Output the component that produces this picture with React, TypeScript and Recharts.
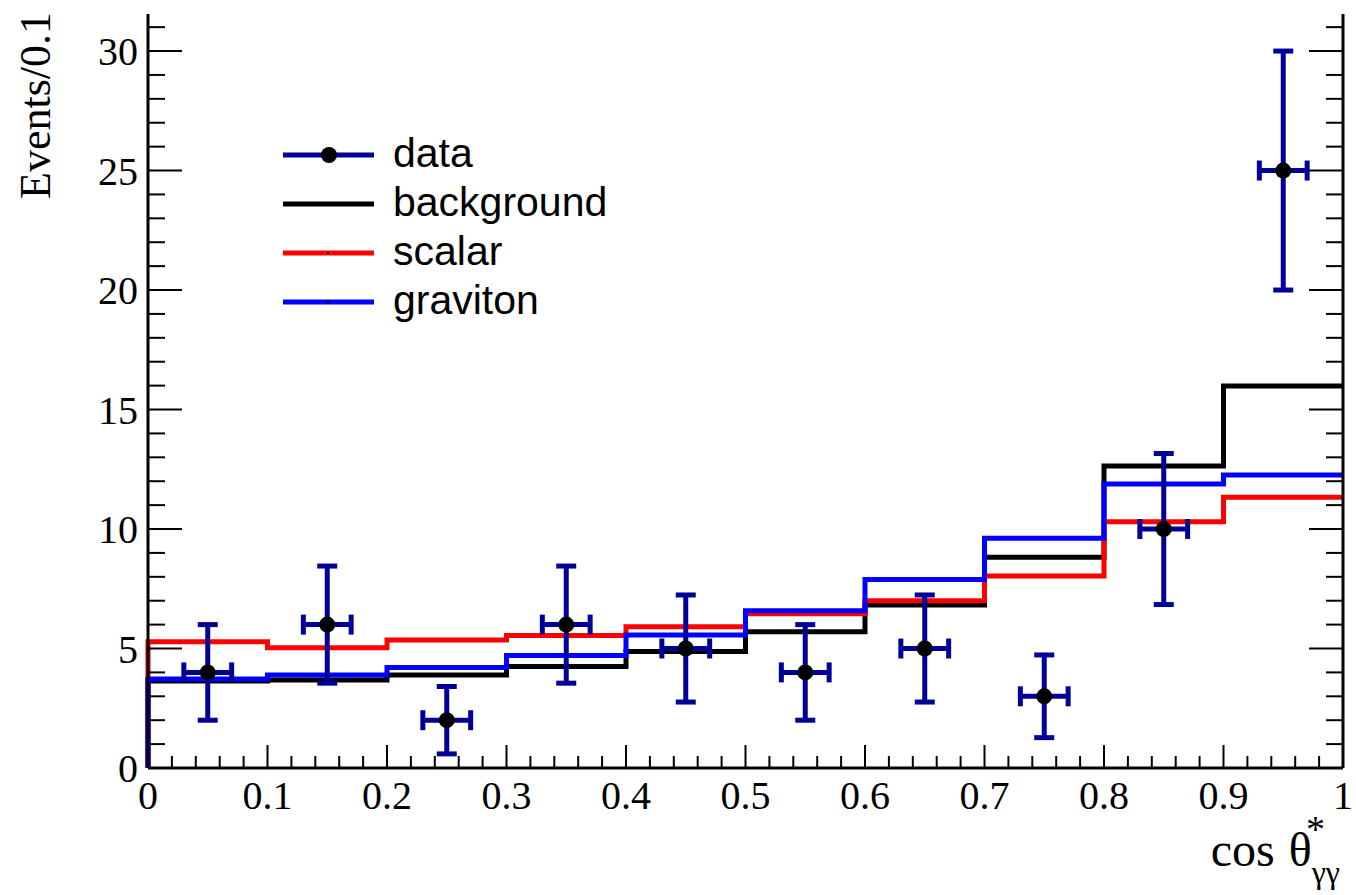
import { ComposedChart, Line, Scatter, ErrorBar, XAxis, YAxis } from "recharts";

// bin low edges and contents
const binEdges = [0, 0.1, 0.2, 0.3, 0.4, 0.5, 0.6, 0.7, 0.8, 0.9];
const background = [3.64, 3.68, 3.89, 4.25, 4.87, 5.7, 6.82, 8.82, 12.64, 15.98];
const scalar = [5.28, 5.03, 5.36, 5.54, 5.91, 6.45, 7.0, 8.03, 10.3, 11.33];
const graviton = [3.72, 3.89, 4.21, 4.71, 5.56, 6.58, 7.89, 9.61, 11.88, 12.26];

const binCenters = [0.05, 0.15, 0.25, 0.35, 0.45, 0.55, 0.65, 0.75, 0.85, 0.95];
const dataCounts = [4, 6, 2, 6, 5, 4, 5, 3, 10, 25];
const dataErrY = [2, 2.45, 1.41, 2.45, 2.24, 2, 2.24, 1.73, 3.16, 5];
const dataErrX = [0.02, 0.02, 0.02, 0.02, 0.02, 0.02, 0.02, 0.02, 0.02, 0.02];

const xTickLabels = ["0", "0.1", "0.2", "0.3", "0.4", "0.5", "0.6", "0.7", "0.8", "0.9", "1"];
const yTickLabels = ["0", "5", "10", "15", "20", "25", "30"];
const legendLabels = ["data", "background", "scalar", "graviton"];

const X_MAX = 1;
const Y_MAX = 31.55;

// histogram as step line: start from 0 at x=0, close at x=1
const toSteps = (vals: number[]) => [
  { x: 0, y: 0 },
  ...binEdges.map((e, i) => ({ x: e, y: vals[i] })),
  { x: X_MAX, y: vals[vals.length - 1] },
];

const points = binCenters.map((c, i) => ({
  x: c,
  y: dataCounts[i],
  ex: dataErrX[i],
  ey: dataErrY[i],
}));

const xTicks = Array.from({ length: 51 }, (_, i) => i / 50);
const yTicks = Array.from({ length: 32 }, (_, i) => i);

const isMajorX = (v: number) => Math.abs(v * 10 - Math.round(v * 10)) < 1e-6;
const isMajorY = (v: number) => v % 5 === 0;

const SERIF = "'Liberation Serif', 'Times New Roman', serif";
const SANS = "'Liberation Sans', Arial, sans-serif";
const DATA_BLUE = "#000099";

const BottomTick = (p: any) => {
  const v = p.payload.value;
  const major = isMajorX(v);
  const idx = Math.round(v * 10);
  return (
    <g>
      <line x1={p.x} y1={p.y} x2={p.x} y2={p.y - (major ? 23 : 12)} stroke="#000" strokeWidth={2} />
      {major && (
        <text x={p.x} y={p.y + 41} textAnchor="middle" fontFamily={SERIF} fontSize={40} fill="#000">
          {xTickLabels[idx]}
        </text>
      )}
    </g>
  );
};

const TopTick = (p: any) => {
  const major = isMajorX(p.payload.value);
  return <line x1={p.x} y1={p.y} x2={p.x} y2={p.y + (major ? 23 : 12)} stroke="#000" strokeWidth={2} />;
};

const LeftTick = (p: any) => {
  const v = p.payload.value;
  const major = isMajorY(v);
  return (
    <g>
      <line x1={p.x} y1={p.y} x2={p.x + (major ? 34 : 17)} y2={p.y} stroke="#000" strokeWidth={2} />
      {major && (
        <text x={p.x - 10} y={p.y + 14} textAnchor="end" fontFamily={SERIF} fontSize={40} fill="#000">
          {yTickLabels[v / 5]}
        </text>
      )}
    </g>
  );
};

const RightTick = (p: any) => {
  const major = isMajorY(p.payload.value);
  return <line x1={p.x} y1={p.y} x2={p.x - (major ? 34 : 17)} y2={p.y} stroke="#000" strokeWidth={2} />;
};

const frame = { stroke: "#000", strokeWidth: 3 };

export default function App() {
  const legendColors = [DATA_BLUE, "#000000", "#ff0000", "#0000ff"];
  return (
    <div style={{ position: "absolute", left: 0, top: 0, width: 1356, height: 895, background: "#fff" }}>
      <ComposedChart width={1356} height={895} margin={{ top: 14, right: 0, bottom: 0, left: 0 }}>
        <XAxis
          dataKey="x"
          type="number"
          domain={[0, X_MAX]}
          ticks={xTicks}
          interval={0}
          tickSize={0}
          tickMargin={0}
          height={127}
          axisLine={frame}
          tick={BottomTick}
        />
        <XAxis
          xAxisId="top"
          orientation="top"
          dataKey="x"
          type="number"
          domain={[0, X_MAX]}
          ticks={xTicks}
          interval={0}
          tickSize={0}
          tickMargin={0}
          height={0}
          axisLine={frame}
          tick={TopTick}
        />
        <YAxis
          type="number"
          domain={[0, Y_MAX]}
          ticks={yTicks}
          interval={0}
          tickSize={0}
          tickMargin={0}
          width={148}
          axisLine={frame}
          tick={LeftTick}
        />
        <YAxis
          yAxisId="right"
          orientation="right"
          type="number"
          domain={[0, Y_MAX]}
          ticks={yTicks}
          interval={0}
          tickSize={0}
          tickMargin={0}
          width={13}
          axisLine={frame}
          tick={RightTick}
        />
        <Line data={toSteps(background)} dataKey="y" type="stepAfter" stroke="#000000" strokeWidth={5} dot={false} activeDot={false} isAnimationActive={false} />
        <Line data={toSteps(scalar)} dataKey="y" type="stepAfter" stroke="#ff0000" strokeWidth={5} dot={false} activeDot={false} isAnimationActive={false} />
        {/* graviton on the top/right axes (same domains) so that frame ticks get drawn */}
        <Line
          data={toSteps(graviton)}
          xAxisId="top"
          yAxisId="right"
          dataKey="y"
          type="stepAfter"
          stroke="#0000ff"
          strokeWidth={5}
          dot={false}
          activeDot={false}
          isAnimationActive={false}
        />
        <Scatter
          data={points}
          dataKey="y"
          isAnimationActive={false}
          shape={(p: any) => <circle cx={p.cx} cy={p.cy} r={8} fill="#000" />}
        >
          <ErrorBar dataKey="ey" direction="y" width={10} stroke={DATA_BLUE} strokeWidth={5} />
          <ErrorBar dataKey="ex" direction="x" width={10} stroke={DATA_BLUE} strokeWidth={5} />
        </Scatter>
      </ComposedChart>

      <svg width={1356} height={895} style={{ position: "absolute", left: 0, top: 0, pointerEvents: "none" }}>
        {/* legend */}
        {legendLabels.map((name, i) => {
          const y = 155 + i * 49;
          return (
            <g key={name}>
              <line x1={283} y1={y} x2={374} y2={y} stroke={legendColors[i]} strokeWidth={5} />
              {i === 0 ? (
                <circle cx={329} cy={y} r={8} fill="#000" />
              ) : i > 1 ? (
                <rect x={327} y={y - 1} width={2} height={2} fill="#000" />
              ) : null}
              <text x={393} y={y + 12} fontFamily={SANS} fontSize={41} fill="#000">
                {name}
              </text>
            </g>
          );
        })}
        {/* axis titles */}
        <text x={50} y={12} transform="rotate(-90, 50, 12)" textAnchor="end" fontFamily={SERIF} fontSize={44} fill="#000">
          Events/0.1
        </text>
        <text x={1340} y={866} textAnchor="end" fontFamily={SERIF} fontSize={48} fill="#000">
          cos<tspan dx={14}>θ</tspan>
          <tspan dy={17} fontSize={32}>γγ</tspan>
        </text>
        <text x={1306} y={842} fontFamily={SERIF} fontSize={38} fill="#000">
          *
        </text>
      </svg>
    </div>
  );
}
